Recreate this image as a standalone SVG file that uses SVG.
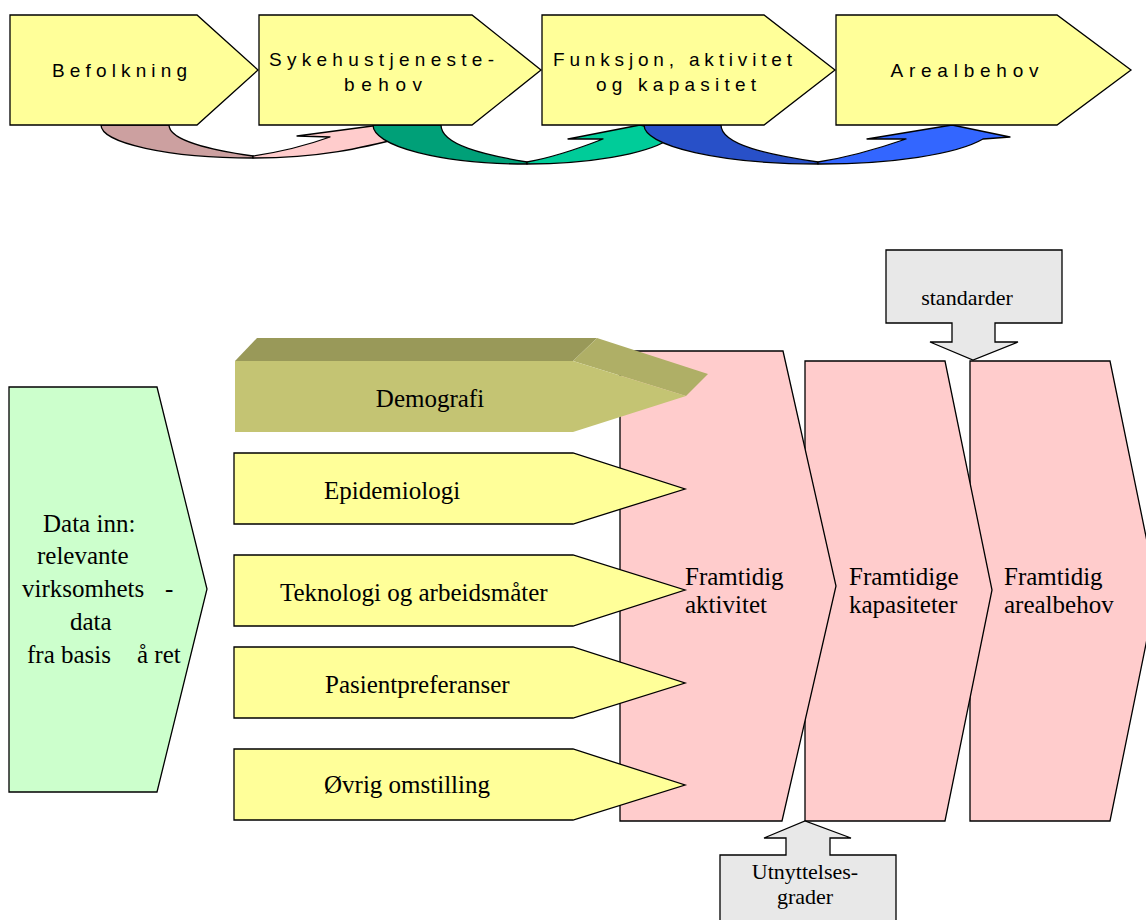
<svg xmlns="http://www.w3.org/2000/svg" width="1146" height="920" viewBox="0 0 1146 920">
<style>
.yb{fill:#FFFF99;stroke:#000;stroke-width:1.3}
.pk{fill:#FFCCCC;stroke:#000;stroke-width:1.3}
.gr{fill:#E8E8E8;stroke:#000;stroke-width:1.3}
.gn{fill:#CCFFCC;stroke:#000;stroke-width:1.3}
.ar{stroke:#000;stroke-width:1.3;stroke-linejoin:round}
.sa{font-family:"Liberation Sans",Arial,sans-serif;font-size:19px;fill:#000;text-anchor:middle}
.se{font-family:"Liberation Serif","Times New Roman",serif;font-size:25px;fill:#000}
.sm{font-size:22px;text-anchor:middle}
</style>
<rect width="1146" height="920" fill="#fff"/>
<g id="connectors">
  <path class="ar" fill="#CCA0A0" d="M101,125 A152,33 0 0 0 253,158 L253,156 C210,150 169,140 169,125 Z"/>
  <path class="ar" fill="#FFCCCC" d="M253,158 C320,158 362,148 405,137 L432,135 L380,125 L297,136 L330,137 C305,146 280,152 253,156 Z"/>
  <path class="ar" fill="#00A078" d="M373,125 A154,39 0 0 0 527,164 L527,162 C485,155 441,145 441,125 Z"/>
  <path class="ar" fill="#00CC99" d="M527,164 A154,39 0 0 0 668,140 L692,137 L640,125 L568,139 L603,139 C580,148 555,157 527,162 Z"/>
  <path class="ar" fill="#2850C8" d="M644,125 A174,39 0 0 0 818,164 L818,162 C770,155 721,145 721,125 Z"/>
  <path class="ar" fill="#3366FF" d="M818,164 A174,39 0 0 0 983,139 L1010,137 L952,125 L867,139 L906,139 C880,148 850,157 818,162 Z"/>
</g>
<g id="befolkning">
  <polygon class="yb" points="10,15 197,15 258,70 197,125 10,125"/>
  <text class="sa" x="119.5" y="77" textLength="135" lengthAdjust="spacing">Befolkning</text>
</g>
<g id="sykehus">
  <polygon class="yb" points="259,15 472,15 541,70 472,125 259,125"/>
  <text class="sa" x="381.5" y="66" textLength="225" lengthAdjust="spacing">Sykehustjeneste-</text>
  <text class="sa" x="383" y="91" textLength="78" lengthAdjust="spacing">behov</text>
</g>
<g id="funksjon">
  <polygon class="yb" points="542,15 764,15 835,70 764,125 542,125"/>
  <text class="sa" x="672.5" y="66" textLength="239" lengthAdjust="spacing">Funksjon, aktivitet</text>
  <text class="sa" x="676" y="91" textLength="160" lengthAdjust="spacing">og kapasitet</text>
</g>
<g id="arealbehov">
  <polygon class="yb" points="836,15 1057,15 1131,70 1057,125 836,125"/>
  <text class="sa" x="964.5" y="77" textLength="148" lengthAdjust="spacing">Arealbehov</text>
</g>
<g id="framtidig-arealbehov">
  <polygon class="pk" points="970,361 1110,361 1157,590 1110,821 970,821"/>
  <text class="se" x="1004" y="585">Framtidig</text>
  <text class="se" x="1004" y="613">arealbehov</text>
</g>
<g id="framtidige-kapasiteter">
  <polygon class="pk" points="805,361 945,361 992,590 945,821 805,821"/>
  <text class="se" x="849" y="585">Framtidige</text>
  <text class="se" x="849" y="613">kapasiteter</text>
</g>
<g id="framtidig-aktivitet">
  <polygon class="pk" points="620,351 783,351 836,586 782,821 620,821"/>
  <text class="se" x="685" y="585">Framtidig</text>
  <text class="se" x="685" y="613">aktivitet</text>
</g>
<g id="data-inn">
  <polygon class="gn" points="9,387 157,387 207,589 157,792 9,792"/>
  <text class="se" x="43" y="532">Data inn:</text>
  <text class="se" x="37" y="564">relevante</text>
  <text class="se" y="597"><tspan x="22">virksomhets</tspan><tspan x="165">-</tspan></text>
  <text class="se" x="70" y="630">data</text>
  <text class="se" y="663"><tspan x="27">fra basis</tspan><tspan x="137">å ret</tspan></text>
</g>
<g id="demografi">
  <polygon fill="#999959" points="235,361 257,338 597,338 573,361"/>
  <polygon fill="#AFAF66" points="573,361 597,338 708,374 686,396"/>
  <polygon fill="#C4C473" points="235,361 573,361 686,396 573,432 235,432"/>
  <text class="se" x="430" y="407" text-anchor="middle">Demografi</text>
</g>
<g id="epidemiologi">
  <polygon class="yb" points="234,453 573,453 685,489 573,524 234,524"/>
  <text class="se" x="324" y="499">Epidemiologi</text>
</g>
<g id="teknologi">
  <polygon class="yb" points="234,555 573,555 685,590 573,626 234,626"/>
  <text class="se" x="280" y="601">Teknologi og arbeidsmåter</text>
</g>
<g id="pasient">
  <polygon class="yb" points="234,647 573,647 685,683 573,718 234,718"/>
  <text class="se" x="325" y="693">Pasientpreferanser</text>
</g>
<g id="ovrig">
  <polygon class="yb" points="234,749 573,749 685,785 573,820 234,820"/>
  <text class="se" x="324" y="793">Øvrig omstilling</text>
</g>
<g id="standarder">
  <polygon class="gr" points="886,250 1062,250 1062,323 995,323 995,342 1018,342 973,360 930,342 952,342 952,323 886,323"/>
  <text class="se sm" x="967" y="305">standarder</text>
</g>
<g id="utnyttelse">
  <polygon class="gr" points="720,930 720,855 786,855 786,838 764,838 805,821 851,838 830,838 830,855 896,855 896,930"/>
  <text class="se sm" x="805" y="879">Utnyttelses-</text>
  <text class="se sm" x="805" y="904">grader</text>
</g>
</svg>
